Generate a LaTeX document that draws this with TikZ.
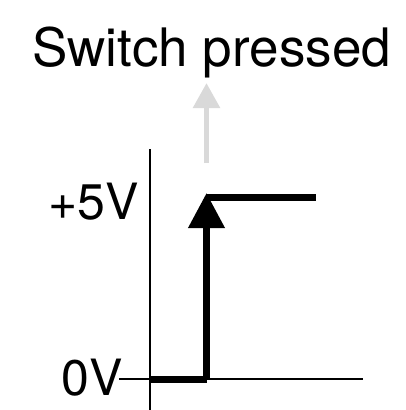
\documentclass[tikz,border=0pt]{standalone}
\usepackage{fontspec}
\setmainfont{TeX Gyre Heros}
\usetikzlibrary{arrows.meta}
\begin{document}
\begin{tikzpicture}[x=1pt,y=-1pt,
  axis/.style={line width=1.6pt,black},
  signal/.style={line width=7pt,black},
  grayarrow/.style={line width=5.5pt,color={rgb,255:red,217;green,217;blue,217},-{Triangle[width=26pt,length=25pt]}},
  lbl/.style={inner sep=0pt,font=\fontsize{50}{50}\selectfont}]
\useasboundingbox (0,0) rectangle (405,410);
% axes
\coordinate (ytop) at (150,149);
\coordinate (ybot) at (150,410);
\coordinate (xleft) at (119,379);
\coordinate (xright) at (363,379);
\draw[axis] (ytop) -- (ybot);
\draw[axis] (xleft) -- (xright);
% signal
\coordinate (s0) at (150,379);
\coordinate (s1) at (206.5,379);
\coordinate (s2) at (206.5,197.5);
\coordinate (s3) at (316,197.5);
\coordinate (tip) at (206.5,193);
\draw[signal] (s0) -- (s1);
\draw[signal] (s2) -- (s3);
\draw[signal,-{Triangle[width=35pt,length=35pt]}] (s1) -- (tip);
% gray arrow
\coordinate (g0) at (206.5,163);
\coordinate (g1) at (206.5,83);
\draw[grayarrow] (g0) -- (g1);
% labels
\node[lbl,font=\fontsize{53}{53}\selectfont,anchor=base] (title) at (211.5,66) {Switch pressed};
\node[lbl,anchor=base east] (five) at (139,219) {+5V};
\node[lbl,anchor=base east] (zero) at (123,395) {0V};
\end{tikzpicture}
\end{document}
